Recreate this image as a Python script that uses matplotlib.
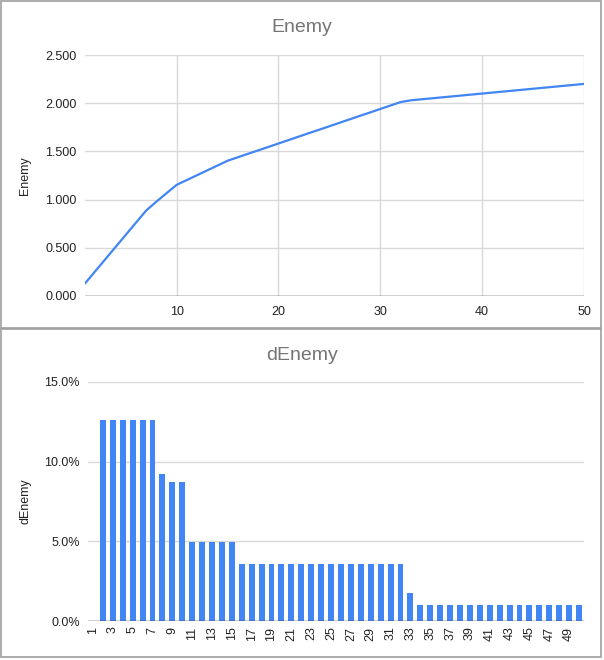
import matplotlib
matplotlib.use("Agg")
import matplotlib.pyplot as plt
from matplotlib.patches import Rectangle
from matplotlib.ticker import FuncFormatter

plt.rcParams['font.family'] = ['Liberation Sans', 'DejaVu Sans']

# ---- data ----
levels = list(range(1, 51))
enemy = [0.130, 0.256, 0.382, 0.508, 0.634, 0.760, 0.886, 0.978, 1.066, 1.153,
         1.203, 1.253, 1.303, 1.353, 1.403, 1.439, 1.475, 1.510, 1.546, 1.582,
         1.618, 1.654, 1.690, 1.725, 1.761, 1.797, 1.833, 1.869, 1.904, 1.940,
         1.976, 2.012, 2.030, 2.040, 2.050, 2.060, 2.070, 2.080, 2.090, 2.100,
         2.110, 2.120, 2.130, 2.140, 2.150, 2.160, 2.170, 2.180, 2.190, 2.200]
denemy_pct = [0.0, 12.6, 12.6, 12.6, 12.6, 12.6, 12.6, 9.2, 8.75, 8.75,
              4.95, 4.95, 4.95, 4.95, 4.95, 3.58, 3.58, 3.58, 3.58, 3.58,
              3.58, 3.58, 3.58, 3.58, 3.58, 3.58, 3.58, 3.58, 3.58, 3.58,
              3.58, 3.58, 1.76, 1.0, 1.0, 1.0, 1.0, 1.0, 1.0, 1.0,
              1.0, 1.0, 1.0, 1.0, 1.0, 1.0, 1.0, 1.0, 1.0, 1.0]
top_xticks = [10, 20, 30, 40, 50]
top_yticks = [0.0, 0.5, 1.0, 1.5, 2.0, 2.5]
bot_yticks = [0, 5, 10, 15]

W, H = 604, 660
BLUE = '#4285F4'
GRID = '#d9d9d9'
TXT = '#222222'
fig = plt.figure(figsize=(W / 100, H / 100), dpi=100)

def fx(px):
    return px / W

def fy(py):
    return 1 - py / H

# panel borders
for (y0, y1) in [(1, 328), (329, 657)]:
    fig.patches.append(Rectangle((fx(1), fy(y1)), fx(601) - fx(1), fy(y0) - fy(y1),
                                 transform=fig.transFigure, fill=False,
                                 edgecolor='#9e9e9e', linewidth=1.2))

# ---- top chart ----
ax1 = fig.add_axes([fx(85), fy(296), fx(584) - fx(85), fy(55) - fy(296)])
ax1.plot(levels, enemy, color=BLUE, linewidth=1.6, solid_capstyle='round', zorder=3)
ax1.set_xlim(1, 50)
ax1.set_ylim(0, 2.5)
ax1.set_xticks(top_xticks)
ax1.set_yticks(top_yticks)
ax1.yaxis.set_major_formatter(FuncFormatter(lambda v, p: f"{v:.3f}"))
ax1.grid(True, color=GRID, linewidth=1.0, zorder=0)
ax1.set_axisbelow(True)
for s in ax1.spines.values():
    s.set_visible(False)
ax1.axhline(0, color='#333333', linewidth=1.0, zorder=4)
ax1.tick_params(length=0, labelsize=9, colors=TXT, pad=7)
ax1.tick_params(axis='y', pad=6)
ax1.set_ylabel('Enemy', fontsize=9, color=TXT)
ax1.yaxis.set_label_coords((31 - 85) / 499, 0.5)
fig.text(fx(302), fy(27), 'Enemy', ha='center', va='center', fontsize=14, color='#757575')

# ---- bottom chart ----
ax2 = fig.add_axes([fx(88), fy(621), fx(584) - fx(88), fy(382) - fy(621)])
ax2.bar(levels, denemy_pct, width=0.6, color=BLUE, zorder=3)
ax2.set_xlim(0.5, 50.5)
ax2.set_ylim(0, 15)
ax2.set_yticks(bot_yticks)
ax2.yaxis.set_major_formatter(FuncFormatter(lambda v, p: f"{v:.1f}%"))
ax2.set_xticks(levels[::2])
ax2.set_xticklabels([str(v) for v in levels[::2]], rotation=90)
ax2.grid(True, axis='y', color=GRID, linewidth=1.0, zorder=0)
ax2.set_axisbelow(True)
for s in ax2.spines.values():
    s.set_visible(False)
ax2.axhline(0, color='#333333', linewidth=1.0, zorder=4)
ax2.tick_params(length=0, labelsize=9, colors=TXT, pad=4)
ax2.tick_params(axis='y', pad=6)
ax2.set_ylabel('dEnemy', fontsize=9, color=TXT)
ax2.yaxis.set_label_coords((31 - 88) / 496, 0.5)
fig.text(fx(302), fy(355), 'dEnemy', ha='center', va='center', fontsize=14, color='#757575')

fig.savefig('out.png', dpi=100)
